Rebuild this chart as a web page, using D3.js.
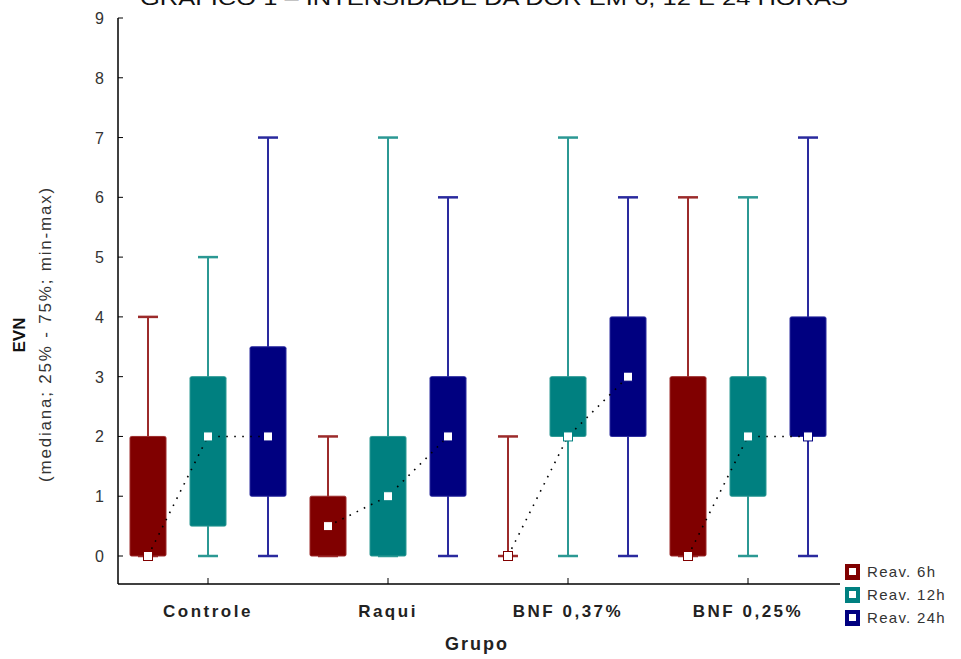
<!DOCTYPE html>
<html>
<head>
<meta charset="utf-8">
<script src="https://cdn.jsdelivr.net/npm/d3@7"></script>
<style>
  body { margin: 0; background: #fff; }
  svg { display: block; font-family: "Liberation Sans", Arial, sans-serif; }
</style>
</head>
<body>
<svg id="chart"></svg>
<script>
// Data
const groups = ['Controle', 'Raqui', 'BNF 0,37%', 'BNF 0,25%'];
const series = ['Reav. 6h', 'Reav. 12h', 'Reav. 24h'];
// per group, per series: [min, q1, median, q3, max]
const controle = [[0, 0, 0, 2, 4], [0, 0.5, 2, 3, 5], [0, 1, 2, 3.5, 7]];
const raqui = [[0, 0, 0.5, 1, 2], [0, 0, 1, 2, 7], [0, 1, 2, 3, 6]];
const bnf037 = [[0, 0, 0, 0, 2], [0, 2, 2, 3, 7], [0, 2, 3, 4, 6]];
const bnf025 = [[0, 0, 0, 3, 6], [0, 1, 2, 3, 6], [0, 2, 2, 4, 7]];
const yTicks = [0, 1, 2, 3, 4, 5, 6, 7, 8, 9];

const boxStats = [controle, raqui, bnf037, bnf025];

const width = 961;
const height = 659;

const fillColors = ['#800000', '#008080', '#000080'];
const lineColors = ['#9c2b2b', '#2b9893', '#2a2a9e'];

const svg = d3.select('#chart')
  .attr('width', width)
  .attr('height', height);

// Scales
const x = d3.scaleBand()
  .domain(groups)
  .range([118, 838]);

const xs = d3.scalePoint()
  .domain(series)
  .range([-60, 60]);

const y = d3.scaleLinear()
  .domain([0, 9])
  .range([556, 18]);

// Title (cut at the top, as in the source image)
svg.append('text')
  .attr('x', 494)
  .attr('y', 5)
  .attr('text-anchor', 'middle')
  .attr('font-size', 20)
  .attr('textLength', 708)
  .attr('lengthAdjust', 'spacingAndGlyphs')
  .attr('fill', '#111')
  .text('GRÁFICO 1 – INTENSIDADE DA DOR EM 6, 12 E 24 HORAS');

// Axes frame
svg.append('line')
  .attr('x1', 118).attr('x2', 118)
  .attr('y1', 18).attr('y2', 584)
  .attr('stroke', '#000').attr('stroke-width', 1.5);

svg.append('line')
  .attr('x1', 118).attr('x2', 840)
  .attr('y1', 584).attr('y2', 584)
  .attr('stroke', '#000').attr('stroke-width', 1.5);

// Y ticks and labels
const yAxis = svg.append('g');
yAxis.selectAll('line')
  .data(yTicks)
  .enter()
  .append('line')
  .attr('x1', 118).attr('x2', 123)
  .attr('y1', d => y(d)).attr('y2', d => y(d))
  .attr('stroke', '#000');

yAxis.selectAll('text')
  .data(yTicks)
  .enter()
  .append('text')
  .attr('x', 104)
  .attr('y', d => y(d) + 6)
  .attr('text-anchor', 'end')
  .attr('font-size', 16)
  .attr('fill', '#333')
  .text(d => d);

// X ticks and labels
const xAxis = svg.append('g');
xAxis.selectAll('line')
  .data(groups)
  .enter()
  .append('line')
  .attr('x1', d => x(d) + x.bandwidth() / 2)
  .attr('x2', d => x(d) + x.bandwidth() / 2)
  .attr('y1', 584).attr('y2', 578)
  .attr('stroke', '#000');

xAxis.selectAll('text')
  .data(groups)
  .enter()
  .append('text')
  .attr('x', d => x(d) + x.bandwidth() / 2)
  .attr('y', 617)
  .attr('text-anchor', 'middle')
  .attr('font-size', 17)
  .attr('font-weight', 'bold')
  .attr('letter-spacing', 2.5)
  .attr('fill', '#222')
  .text(d => d);

// Axis titles
svg.append('text')
  .attr('x', 477)
  .attr('y', 650)
  .attr('text-anchor', 'middle')
  .attr('font-size', 18)
  .attr('font-weight', 'bold')
  .attr('letter-spacing', 2)
  .attr('fill', '#222')
  .text('Grupo');

svg.append('text')
  .attr('transform', 'translate(25,335) rotate(-90)')
  .attr('text-anchor', 'middle')
  .attr('font-size', 17)
  .attr('font-weight', 'bold')
  .attr('fill', '#111')
  .text('EVN');

svg.append('text')
  .attr('transform', 'translate(51,334) rotate(-90)')
  .attr('text-anchor', 'middle')
  .attr('font-size', 17)
  .attr('letter-spacing', 1.8)
  .attr('fill', '#333')
  .text('(mediana; 25% - 75%; min-max)');

// Boxes
const boxW = 36;
const capW = 20;
const markS = 9;

const cells = [];
boxStats.forEach((g, gi) => {
  g.forEach((s, si) => {
    cells.push({
      group: groups[gi],
      si: si,
      cx: x(groups[gi]) + x.bandwidth() / 2 + xs(series[si]),
      min: s[0], q1: s[1], med: s[2], q3: s[3], max: s[4]
    });
  });
});

const box = svg.selectAll('g.box')
  .data(cells)
  .enter()
  .append('g')
  .attr('class', 'box');

// whiskers
box.append('line')
  .attr('x1', d => d.cx).attr('x2', d => d.cx)
  .attr('y1', d => y(d.max)).attr('y2', d => y(d.min))
  .attr('stroke', d => lineColors[d.si])
  .attr('stroke-width', 2);

box.append('line')
  .attr('x1', d => d.cx - capW / 2).attr('x2', d => d.cx + capW / 2)
  .attr('y1', d => y(d.max)).attr('y2', d => y(d.max))
  .attr('stroke', d => lineColors[d.si])
  .attr('stroke-width', 2.5);

box.append('line')
  .attr('x1', d => d.cx - capW / 2).attr('x2', d => d.cx + capW / 2)
  .attr('y1', d => y(d.min)).attr('y2', d => y(d.min))
  .attr('stroke', d => lineColors[d.si])
  .attr('stroke-width', 2.5);

// box body
box.filter(d => d.q3 > d.q1)
  .append('rect')
  .attr('x', d => d.cx - boxW / 2)
  .attr('y', d => y(d.q3))
  .attr('width', boxW)
  .attr('height', d => y(d.q1) - y(d.q3))
  .attr('rx', 1.5)
  .attr('fill', d => fillColors[d.si])
  .attr('stroke', d => lineColors[d.si])
  .attr('stroke-width', 1);

// dotted median lines within each group
groups.forEach(g => {
  const pts = cells.filter(c => c.group === g);
  svg.append('path')
    .datum(pts)
    .attr('d', d3.line().x(d => d.cx).y(d => y(d.med)))
    .attr('fill', 'none')
    .attr('stroke', '#000')
    .attr('stroke-width', 1.6)
    .attr('stroke-dasharray', '1.6,6.4');
});

// median markers
svg.selectAll('rect.med')
  .data(cells)
  .enter()
  .append('rect')
  .attr('class', 'med')
  .attr('x', d => d.cx - markS / 2)
  .attr('y', d => y(d.med) - markS / 2)
  .attr('width', markS)
  .attr('height', markS)
  .attr('fill', '#fff')
  .attr('stroke', d => fillColors[d.si])
  .attr('stroke-width', 1);

// Legend
const legend = svg.selectAll('g.legend')
  .data(series)
  .enter()
  .append('g')
  .attr('class', 'legend')
  .attr('transform', (d, i) => `translate(845, ${564 + i * 23})`);

legend.append('rect')
  .attr('width', 15)
  .attr('height', 16)
  .attr('fill', (d, i) => fillColors[i]);

legend.append('rect')
  .attr('x', 4)
  .attr('y', 4)
  .attr('width', 7)
  .attr('height', 7)
  .attr('fill', '#fff');

legend.append('text')
  .attr('x', 22)
  .attr('y', 13)
  .attr('font-size', 15)
  .attr('letter-spacing', 1.3)
  .attr('fill', '#333')
  .text(d => d);
</script>
</body>
</html>
